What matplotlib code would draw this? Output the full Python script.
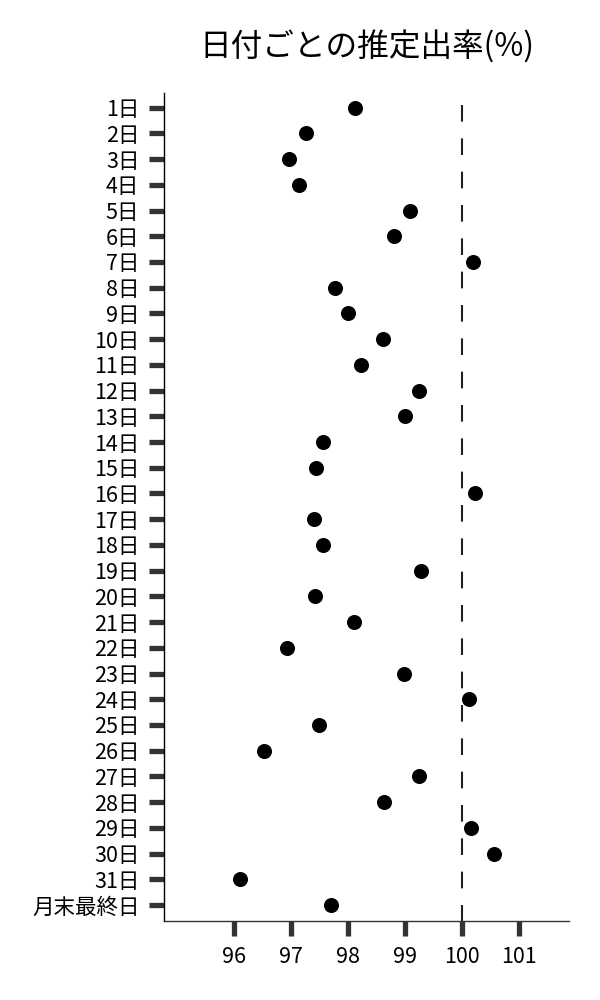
import matplotlib
matplotlib.use('Agg')
import matplotlib.pyplot as plt
import numpy as np

plt.rcParams['font.family'] = ['Noto Sans CJK JP', 'DejaVu Sans']

#------------------------------------------------------------------------------
# DATA

days = [f'{i}日' for i in range(1, 32)] + ['月末最終日']
rates = [98.13, 97.27, 96.96, 97.15, 99.09, 98.81, 100.19, 97.78, 98.00, 98.61,
         98.23, 99.25, 99.01, 97.56, 97.44, 100.23, 97.41, 97.57, 99.29, 97.43,
         98.11, 96.93, 98.98, 100.13, 97.49, 96.53, 99.25, 98.63, 100.16, 100.57,
         96.11, 97.71]
xticks = [96, 97, 98, 99, 100, 101]
ref_value = 100

#------------------------------------------------------------------------------
# PLOT

fig = plt.figure(figsize=(6, 10), dpi=100)
ax = fig.add_axes([0.274, 0.0793, 0.674, 0.8277])

ypos = np.arange(len(days))
ax.plot(rates, ypos, 'o', color='black', markersize=9.8, zorder=3)

# reference line at 100% (dashes scale with lw: 8*1.5 pt ~ 16.7 px)
ax.plot([ref_value, ref_value], [-0.12, 31.61], color='#222222', lw=1.5,
        dashes=(8, 8), zorder=2)

ax.set_xlim(94.78, 101.88)
ax.set_ylim(31.61, -0.57)

ax.set_yticks(ypos)
ax.set_yticklabels(days)
ax.set_xticks(xticks)
ax.set_xticklabels([str(v) for v in xticks])

ax.tick_params(axis='both', length=11, width=3.8, color='#333333',
               labelsize=15.5, labelcolor='black')
ax.tick_params(axis='y', pad=7)
ax.tick_params(axis='x', pad=7)

ax.spines['top'].set_visible(False)
ax.spines['right'].set_visible(False)
ax.spines['left'].set_color('black')
ax.spines['bottom'].set_color('#333333')
ax.spines['left'].set_linewidth(1.0)
ax.spines['bottom'].set_linewidth(1.0)

ax.set_title('日付ごとの推定出率(%)', fontsize=22.8, pad=27)

fig.savefig('out.png', dpi=100)
